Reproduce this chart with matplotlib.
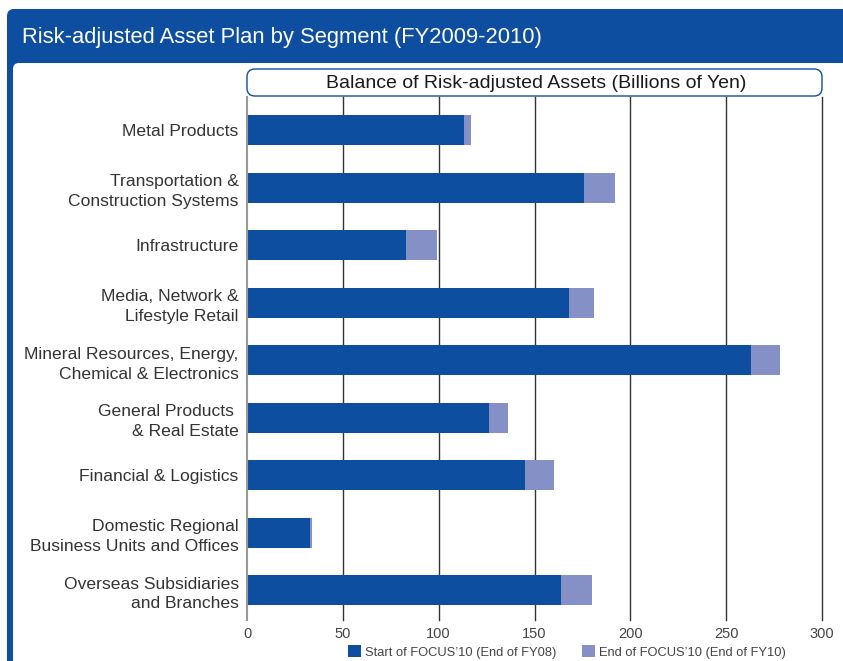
from matplotlib import pyplot as plt
from matplotlib.patches import FancyBboxPatch
import numpy as np

plt.rcParams['font.family'] = ['Liberation Sans', 'DejaVu Sans']

# data
segments = ['Metal Products',
            'Transportation &\nConstruction Systems',
            'Infrastructure',
            'Media, Network &\nLifestyle Retail',
            'Mineral Resources, Energy,\nChemical & Electronics',
            'General Products \n& Real Estate',
            'Financial & Logistics',
            'Domestic Regional\nBusiness Units and Offices',
            'Overseas Subsidiaries\nand Branches']
start_fy08 = [113, 176, 83, 168, 263, 126, 145, 33, 164]
end_fy10 = [117, 192, 99, 181, 278, 136, 160, 34, 180]
xticks = [0, 50, 100, 150, 200, 250, 300]

dark_blue = '#0d4ea0'
light_blue = '#8490c6'
text_col = '#333333'

W, H = 843, 661
fig = plt.figure(figsize=(W/100, H/100), dpi=100)

# background frame in pixel units
bg = fig.add_axes([0, 0, 1, 1])
bg.set_xlim(0, W)
bg.set_ylim(H, 0)
bg.axis('off')
bg.add_patch(FancyBboxPatch((7, 9), 900, 800, boxstyle='round,pad=0,rounding_size=7',
                            facecolor=dark_blue, edgecolor='none'))
bg.add_patch(FancyBboxPatch((13, 63), 900, 800, boxstyle='round,pad=0,rounding_size=6',
                            facecolor='white', edgecolor='none'))
bg.text(22, 38, 'Risk-adjusted Asset Plan by Segment (FY2009-2010)', color='white',
        fontsize=15.8, va='center', ha='left')
bg.add_patch(FancyBboxPatch((247, 69), 575, 27, boxstyle='round,pad=0,rounding_size=8',
                            facecolor='white', edgecolor=dark_blue, lw=1))
bg.text(536, 83, 'Balance of Risk-adjusted Assets (Billions of Yen)', color='#1a1a1a',
        fontsize=14, va='center', ha='center')

# chart
ax = fig.add_axes([247/W, 1 - 620/H, 575/W, (620-97)/H])
y = np.arange(len(segments))
ax.barh(y, end_fy10, height=0.52, color=light_blue, zorder=3,
        label="End of FOCUS\u201910 (End of FY10)")
ax.barh(y, start_fy08, height=0.52, color=dark_blue, zorder=4,
        label="Start of FOCUS\u201910 (End of FY08)")
for v in xticks[1:]:
    ax.axvline(v, color='#333333', lw=1, zorder=1, clip_on=False)
ax.axvline(0, color='#999999', lw=1.5, zorder=5, clip_on=False)

ax.set_xlim(0, 300)
ax.set_ylim(8.52, -0.58)
ax.set_xticks(xticks)
ax.set_yticks(y)
ax.set_yticklabels(segments, fontsize=12.6, color=text_col, linespacing=1.4)
ax.tick_params(axis='x', length=0, pad=5, labelsize=10.5, labelcolor='#444444')
ax.tick_params(axis='y', length=0, pad=6)
for s in ax.spines.values():
    s.set_visible(False)

h, l = ax.get_legend_handles_labels()
leg = fig.legend(h[::-1], l[::-1], loc='center', bbox_to_anchor=(567/W, 1 - 652/H), ncol=2,
                 frameon=False, fontsize=9.3, handlelength=1.0, handleheight=1.0,
                 handletextpad=0.3, columnspacing=2.0, labelcolor='#444444')

plt.savefig('out.png', dpi=100)
